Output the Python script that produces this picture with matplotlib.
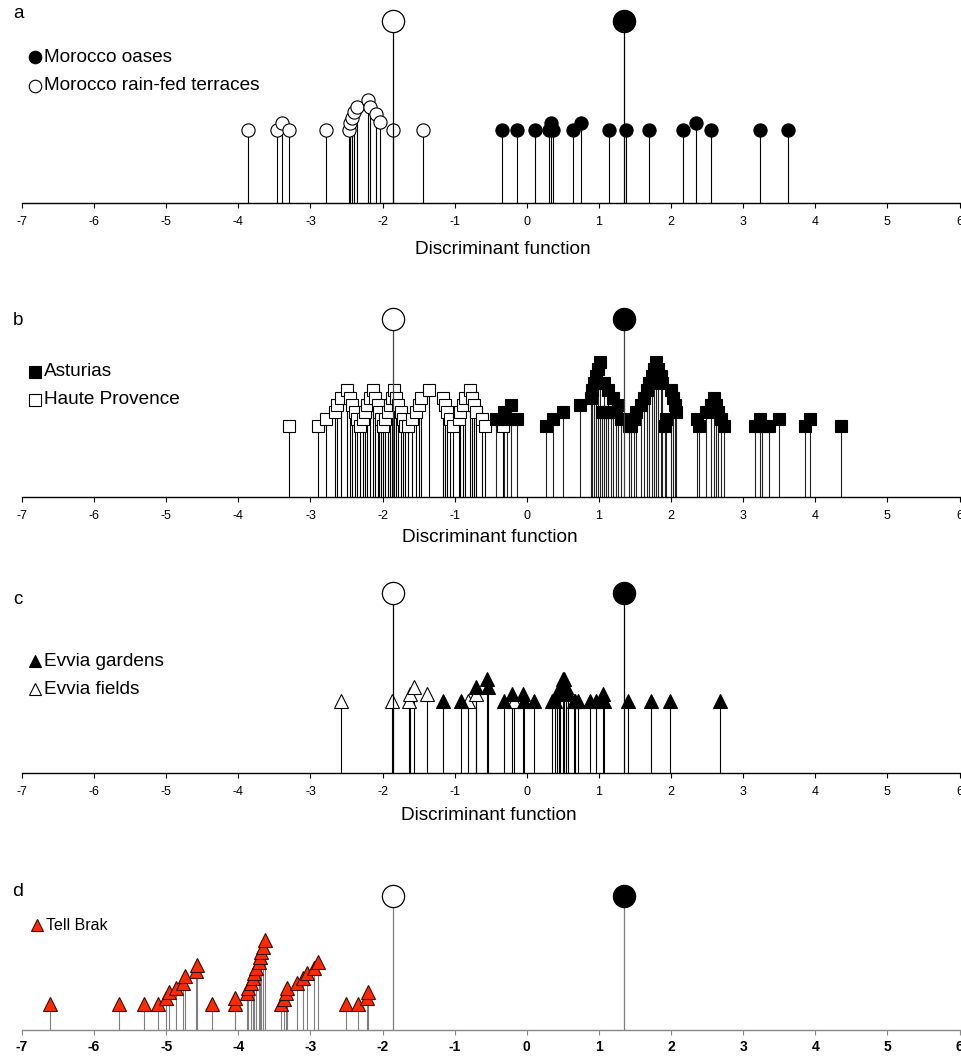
import matplotlib
matplotlib.use("Agg")
import matplotlib.pyplot as plt
from matplotlib.lines import Line2D

plt.rcParams['font.family'] = ['Liberation Sans', 'DejaVu Sans']
plt.rcParams['axes.unicode_minus'] = False

W, H = 962, 1057

# centroids (group means) shown as big circles in every panel
centroid_open_x = -1.85
centroid_filled_x = 1.35
centroid_y = 2.5

# --- a: Morocco ---
oases_x = [-0.34, -0.14, 0.12, 0.31, 0.34, 0.37, 0.64, 0.75, 1.14, 1.37, 1.69,
           2.17, 2.35, 2.55, 3.24, 3.62]
oases_y = [1.0, 1.0, 1.0, 1.0, 1.1, 1.0, 1.0, 1.1, 1.0, 1.0, 1.0,
           1.0, 1.1, 1.0, 1.0, 1.0]
terraces_x = [-3.86, -3.47, -3.39, -3.30, -2.78, -2.47, -2.445, -2.42, -2.39, -2.36,
              -2.20, -2.17, -2.09, -2.03, -1.85, -1.44]
terraces_y = [1.0, 1.0, 1.1, 1.0, 1.0, 1.0, 1.09, 1.17, 1.25, 1.31,
              1.41, 1.31, 1.22, 1.11, 1.0, 1.0]

# --- b: Asturias / Haute Provence ---
asturias_x = [-0.43, -0.32, -0.27, -0.22, -0.13,
              0.26, 0.37, 0.50, 0.74, 0.89, 0.91, 0.93, 0.96, 0.99, 1.01,
              1.04, 1.07, 1.10, 1.13, 1.17, 1.20, 1.24, 1.27, 1.31, 1.42,
              1.45, 1.49, 1.52, 1.59, 1.63, 1.66, 1.70, 1.73, 1.77, 1.79,
              1.82, 1.86, 1.88, 1.91, 1.93, 2.00, 2.03, 2.05, 2.07,
              2.36, 2.39, 2.48, 2.56, 2.59, 2.62, 2.65, 2.69, 2.73,
              3.16, 3.23, 3.26, 3.36, 3.50, 3.86, 3.93, 4.35]
asturias_y = [1.1, 1.2, 1.1, 1.3, 1.1,
              1.0, 1.1, 1.2, 1.3, 1.4, 1.5, 1.6, 1.7, 1.8, 1.9,
              1.2, 1.6, 1.2, 1.5, 1.2, 1.4, 1.2, 1.3, 1.1, 1.0,
              1.0, 1.1, 1.2, 1.3, 1.4, 1.5, 1.6, 1.7, 1.8, 1.9,
              1.8, 1.7, 1.6, 1.0, 1.1, 1.5, 1.4, 1.3, 1.2,
              1.1, 1.0, 1.2, 1.3, 1.4, 1.3, 1.2, 1.1, 1.0,
              1.0, 1.1, 1.0, 1.0, 1.1, 1.0, 1.1, 1.0]
provence_x = [-3.30, -2.89, -2.79, -2.66, -2.63, -2.57, -2.49, -2.45, -2.42, -2.38,
              -2.35, -2.31, -2.27, -2.24, -2.21, -2.17, -2.13, -2.10, -2.07, -2.05,
              -2.02, -1.99, -1.96, -1.93, -1.90, -1.87, -1.84, -1.81, -1.78, -1.75,
              -1.72, -1.69, -1.65, -1.59, -1.54, -1.50, -1.47, -1.36, -1.16, -1.13,
              -1.10, -1.06, -1.03, -0.94, -0.92, -0.89, -0.86, -0.79, -0.76, -0.73,
              -0.70, -0.62, -0.58, -0.33]
provence_y = [1.0, 1.0, 1.1, 1.2, 1.3, 1.4, 1.5, 1.4, 1.3, 1.2,
              1.1, 1.0, 1.1, 1.2, 1.3, 1.4, 1.5, 1.4, 1.3, 1.2,
              1.1, 1.0, 1.1, 1.2, 1.3, 1.4, 1.5, 1.4, 1.3, 1.2,
              1.1, 1.0, 1.0, 1.1, 1.2, 1.3, 1.4, 1.5, 1.4, 1.3,
              1.2, 1.1, 1.0, 1.1, 1.2, 1.3, 1.4, 1.5, 1.4, 1.3,
              1.2, 1.1, 1.0, 1.0]

# --- c: Evvia ---
gardens_x = [-1.16, -0.91, -0.71, -0.556, -0.54, -0.32, -0.20, -0.046, -0.037, 0.10,
             0.356, 0.389, 0.417, 0.44, 0.463, 0.495, 0.519, 0.542, 0.574, 0.648,
             0.667, 0.704, 0.88, 0.96, 1.05, 1.07, 1.41, 1.72, 1.99, 2.68]
gardens_y = [1.0, 1.0, 1.2, 1.3, 1.2, 1.0, 1.1, 1.1, 1.0, 1.0,
             1.0, 1.0, 1.1, 1.1, 1.2, 1.3, 1.3, 1.2, 1.1, 1.0,
             1.0, 1.0, 1.0, 1.0, 1.1, 1.0, 1.0, 1.0, 1.0, 1.0]
fields_x = [-2.57, -1.875, -1.635, -1.62, -1.565, -1.38, -0.815, -0.70, -0.176]
fields_y = [1.0, 1.0, 1.0, 1.1, 1.2, 1.1, 1.0, 1.1, 1.0]

# --- d: Tell Brak ---
brak_x = [-6.61, -5.66, -5.31, -5.11, -5.00, -4.96, -4.87, -4.77, -4.74, -4.59,
          -4.58, -4.36, -4.05, -4.04, -3.88, -3.86, -3.83, -3.80, -3.78, -3.75,
          -3.72, -3.70, -3.69, -3.66, -3.63, -3.41, -3.37, -3.34, -3.32, -3.19,
          -3.10, -3.05, -2.95, -2.89, -2.51, -2.34, -2.21, -2.20]
brak_y = [1.0, 1.0, 1.0, 1.0, 1.08, 1.16, 1.22, 1.29, 1.38, 1.45,
          1.53, 1.0, 1.0, 1.08, 1.15, 1.22, 1.29, 1.36, 1.43, 1.50,
          1.58, 1.65, 1.72, 1.79, 1.88, 1.0, 1.07, 1.15, 1.22, 1.29,
          1.36, 1.43, 1.50, 1.58, 1.0, 1.0, 1.08, 1.16]

xticks = list(range(-7, 7))


def fx(x):
    return x / W


def fy(y):
    return 1 - y / H


def make_axes(axis_px, top_px, ybottom, unit_px):
    left, right = 22, 959.5
    ax = fig.add_axes([fx(left), fy(axis_px), (right - left) / W, (axis_px - top_px) / H])
    ax.set_xlim(-7, 6)
    ax.set_ylim(ybottom, ybottom + (axis_px - top_px) / unit_px)
    for s in ['left', 'right', 'top']:
        ax.spines[s].set_visible(False)
    ax.set_yticks([])
    ax.set_xticks(xticks)
    ax.patch.set_alpha(0)
    return ax


def stems(ax, xs, ys, marker, fc, ec, ms, stem_color='black', mew=0.8):
    ax.vlines(xs, 0, ys, colors=stem_color, lw=0.8, zorder=1)
    ax.plot(xs, ys, linestyle='none', marker=marker, ms=ms, mfc=fc, mec=ec,
            mew=mew, zorder=2, clip_on=False)


def centroids(ax, stem_color='black'):
    ax.vlines([centroid_open_x, centroid_filled_x], 0, centroid_y,
              colors=stem_color, lw=0.9, zorder=3)
    ax.plot([centroid_open_x], [centroid_y], marker='o', ms=16, mfc='white',
            mec='black', mew=0.9, zorder=4, clip_on=False)
    ax.plot([centroid_filled_x], [centroid_y], marker='o', ms=16, mfc='black',
            mec='black', mew=0.9, zorder=4, clip_on=False)


def legend_entry(x, y, marker, fc, ec, text, size=13.7, ms=9, gap=9):
    fig.add_artist(Line2D([fx(x)], [fy(y)], transform=fig.transFigure, marker=marker,
                          ms=ms, mfc=fc, mec=ec, mew=0.8, linestyle='none'))
    fig.text(fx(x + gap), fy(y), text, fontsize=size, va='center', ha='left')


def style_ticks(ax, size=9, pad=6, weight='normal', color='black'):
    ax.tick_params(axis='x', direction='out', length=3.5, width=0.8, pad=pad,
                   labelsize=size, colors=color, labelcolor='black')
    for lab in ax.get_xticklabels():
        lab.set_fontweight(weight)
    ax.spines['bottom'].set_linewidth(1.0)
    ax.spines['bottom'].set_color(color)


fig = plt.figure(figsize=(W / 100, H / 100), dpi=100)

# panel a
ax_a = make_axes(203, 0, 0, 73)
stems(ax_a, terraces_x, terraces_y, 'o', 'white', 'black', 9.5)
stems(ax_a, oases_x, oases_y, 'o', 'black', 'black', 9.5)
centroids(ax_a)
style_ticks(ax_a)
fig.text(fx(503), fy(250), 'Discriminant function', fontsize=13.7, ha='center', va='center')
fig.text(fx(18), fy(13), 'a', fontsize=13.5, ha='center', va='center')
legend_entry(35, 57, 'o', 'black', 'black', 'Morocco oases')
legend_entry(35, 86, 'o', 'white', 'black', 'Morocco rain-fed terraces')

# panel b
ax_b = make_axes(497, 300, 0, 71)
stems(ax_b, provence_x, provence_y, 's', 'white', 'black', 9)
stems(ax_b, asturias_x, asturias_y, 's', 'black', 'black', 9, stem_color='#222222')
centroids(ax_b, stem_color='#444444')
style_ticks(ax_b)
fig.text(fx(490), fy(538), 'Discriminant function', fontsize=13.7, ha='center', va='center')
fig.text(fx(18), fy(320), 'b', fontsize=13.5, ha='center', va='center')
legend_entry(35, 372, 's', 'black', 'black', 'Asturias')
legend_entry(35, 400, 's', 'white', 'black', 'Haute Provence')

# panel c
ax_c = make_axes(773, 575, 0, 72)
stems(ax_c, fields_x, fields_y, '^', 'white', 'black', 9.5)
stems(ax_c, gardens_x, gardens_y, '^', 'black', 'black', 9.5)
centroids(ax_c)
style_ticks(ax_c)
fig.text(fx(489), fy(815), 'Discriminant function', fontsize=13.7, ha='center', va='center')
fig.text(fx(18), fy(600), 'c', fontsize=13.5, ha='center', va='center')
legend_entry(35, 661, '^', 'black', 'black', 'Evvia gardens')
legend_entry(35, 689, '^', 'white', 'black', 'Evvia fields')

# panel d
ax_d = make_axes(1030, 870, 0.634, 72)
stems(ax_d, brak_x, brak_y, '^', '#ff2a00', '#3a0a00', 9.5, stem_color='#7f7f7f')
centroids(ax_d, stem_color='#7f7f7f')
style_ticks(ax_d, size=10, pad=4, weight='bold', color='#888888')
fig.text(fx(18), fy(891), 'd', fontsize=14, ha='center', va='center')
legend_entry(37, 925, '^', '#ff2a00', '#3a0a00', 'Tell Brak', size=11.5, ms=8.5, gap=9)

fig.savefig('out.png', dpi=100)
